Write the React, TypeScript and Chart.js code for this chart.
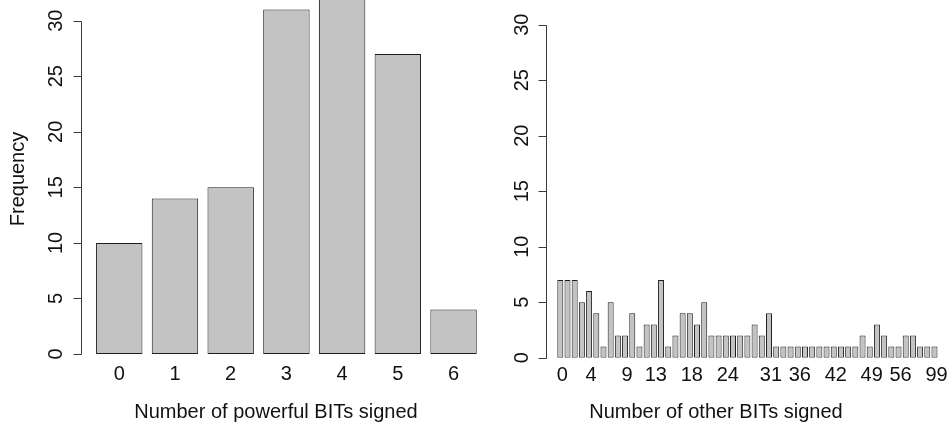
import { useEffect, useRef } from 'react';
import { Chart, registerables } from 'chart.js';

Chart.register(...registerables);

// ---- data ----
const powerfulCategories = ['0', '1', '2', '3', '4', '5', '6'];
const powerfulCounts = [10, 14, 15, 31, 32, 27, 4];

const otherCategories = [
  '0', '1', '2', '3', '4', '5', '6', '7', '8', '9', '10', '11', '12', '13', '14', '15', '16', '17', '18',
  '19', '20', '21', '23', '24', '25', '26', '27', '28', '29', '31', '32', '33', '35', '36',
  '37', '38', '39', '40', '42', '43', '44', '46', '47', '49', '50', '51', '53', '56',
  '58', '60', '64', '72', '99',
];
const otherCounts = [
  7, 7, 7, 5, 6, 4, 1, 5, 2, 2, 4, 1, 3, 3, 7, 1, 2, 4, 4, 3,
  5, 2, 2, 2, 2, 2, 2, 3, 2, 4, 1, 1, 1, 1, 1, 1, 1, 1, 1, 1,
  1, 1, 2, 1, 3, 2, 1, 1, 2, 2, 1, 1, 1,
];
const otherShownLabels = ['0', '4', '9', '13', '18', '24', '31', '36', '42', '49', '56', '99'];
const frequencyTicks = [0, 5, 10, 15, 20, 25, 30];

const FONT = '20px "Liberation Sans", Arial, Helvetica, sans-serif';

type PanelOpts = {
  left: number;
  width: number;
  height: number;
  padding: { left: number; right: number; top: number; bottom: number };
  yMax: number;
  axisX: number;
  tickLen: number;
  yLabelBaseX: number;
  xLabelBaseline: number;
  xLabelDx: number;
  title: string;
  titleX: number;
  titleBaseline: number;
  yTitle?: string;
  yTitleBaseX?: number;
  yTitleCenterY?: number;
  categories: string[];
  counts: number[];
  shown: string[];
};

function makeAxesPlugin(o: PanelOpts) {
  return {
    id: 'rStyleAxes',
    afterDraw(chart: any) {
      const ctx = chart.ctx as CanvasRenderingContext2D;
      const ys = chart.scales.y;
      const xs = chart.scales.x;
      ctx.save();
      ctx.strokeStyle = '#3a3a3a';
      ctx.lineWidth = 1;
      const ax = Math.round(o.axisX) + 0.5;
      const yTop = Math.round(ys.getPixelForValue(frequencyTicks[frequencyTicks.length - 1])) + 0.5;
      const yBot = Math.round(ys.getPixelForValue(frequencyTicks[0])) + 0.5;
      ctx.beginPath();
      ctx.moveTo(ax, yTop);
      ctx.lineTo(ax, yBot);
      frequencyTicks.forEach((t) => {
        const py = Math.round(ys.getPixelForValue(t)) + 0.5;
        ctx.moveTo(ax, py);
        ctx.lineTo(ax - o.tickLen, py);
      });
      ctx.stroke();

      ctx.fillStyle = '#111';
      ctx.font = FONT;
      ctx.textAlign = 'center';
      ctx.textBaseline = 'alphabetic';
      frequencyTicks.forEach((t) => {
        const py = ys.getPixelForValue(t);
        ctx.save();
        ctx.translate(o.yLabelBaseX, py);
        ctx.rotate(-Math.PI / 2);
        ctx.fillText(String(t), 0, 0);
        ctx.restore();
      });

      o.categories.forEach((c, i) => {
        if (o.shown.indexOf(c) === -1) return;
        const px = xs.getPixelForValue(i) + o.xLabelDx;
        ctx.fillText(c, px, o.xLabelBaseline);
      });

      ctx.fillText(o.title, o.titleX, o.titleBaseline);

      if (o.yTitle) {
        ctx.save();
        ctx.translate(o.yTitleBaseX as number, o.yTitleCenterY as number);
        ctx.rotate(-Math.PI / 2);
        ctx.fillText(o.yTitle, 0, 0);
        ctx.restore();
      }
      ctx.restore();
    },
  };
}

function Panel({ o }: { o: PanelOpts }) {
  const ref = useRef<HTMLCanvasElement | null>(null);
  useEffect(() => {
    if (!ref.current) return;
    const chart = new Chart(ref.current, {
      type: 'bar',
      data: {
        labels: o.categories,
        datasets: [
          {
            data: o.counts,
            backgroundColor: '#c3c3c3',
            borderColor: '#1e1e1e',
            borderWidth: 1,
            borderSkipped: false,
            barPercentage: 0.833,
            categoryPercentage: 1,
          },
        ],
      },
      options: {
        responsive: false,
        animation: false,
        devicePixelRatio: 1,
        layout: { padding: o.padding },
        scales: {
          x: { type: 'category', display: false, offset: true },
          y: { type: 'linear', display: false, min: 0, max: o.yMax },
        },
        plugins: {
          legend: { display: false },
          tooltip: { enabled: false },
        },
        events: [],
      },
      plugins: [makeAxesPlugin(o)],
    });
    return () => chart.destroy();
  }, [o]);
  return (
    <canvas
      ref={ref}
      width={o.width}
      height={o.height}
      style={{ position: 'absolute', left: o.left, top: 0, width: o.width, height: o.height }}
    />
  );
}

const leftPanel: PanelOpts = {
  left: 0,
  width: 500,
  height: 424,
  padding: { left: 91.4, right: 18.6, top: 0, bottom: 70 },
  yMax: 354 / 11.11,
  axisX: 80.5,
  tickLen: 8,
  yLabelBaseX: 62.2,
  xLabelBaseline: 380,
  xLabelDx: 0,
  title: 'Number of powerful BITs signed',
  titleX: 276,
  titleBaseline: 418,
  yTitle: 'Frequency',
  yTitleBaseX: 24,
  yTitleCenterY: 179,
  categories: powerfulCategories,
  counts: powerfulCounts,
  shown: powerfulCategories,
};

const rightPanel: PanelOpts = {
  left: 500,
  width: 452,
  height: 424,
  padding: { left: 56.7, right: 13.9, top: 0, bottom: 66.3 },
  yMax: 357.7 / 11.1,
  axisX: 46,
  tickLen: 8,
  yLabelBaseX: 28.2,
  xLabelBaseline: 381,
  xLabelDx: 2,
  title: 'Number of other BITs signed',
  titleX: 216,
  titleBaseline: 418,
  categories: otherCategories,
  counts: otherCounts,
  shown: otherShownLabels,
};

export default function App() {
  return (
    <div style={{ position: 'absolute', left: 0, top: 0, width: 952, height: 424, background: '#fff', overflow: 'hidden' }}>
      <Panel o={leftPanel} />
      <Panel o={rightPanel} />
    </div>
  );
}
